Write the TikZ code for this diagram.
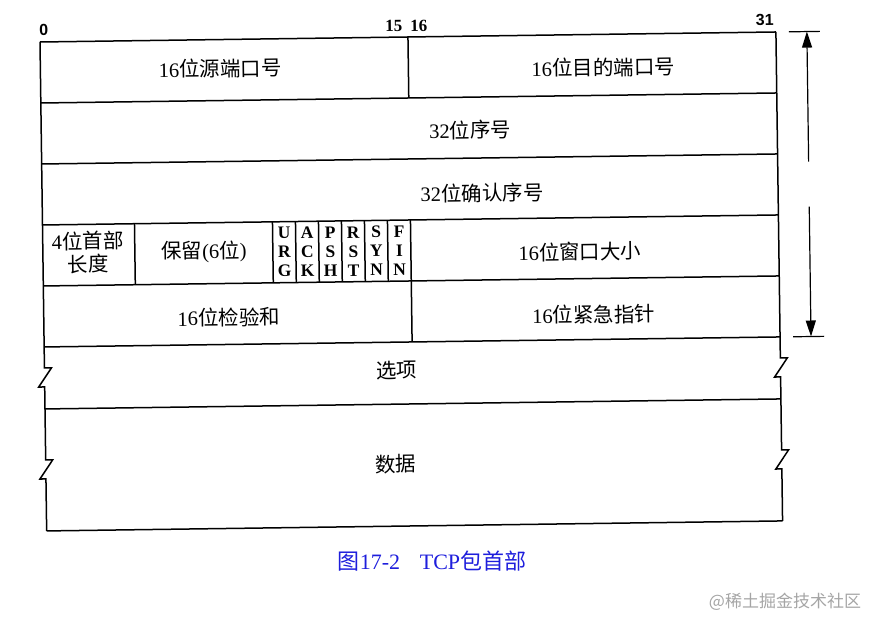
\documentclass[tikz,border=0pt]{standalone}
\usepackage{fontspec}
\setmainfont{Liberation Serif}
\newfontfamily\cjk{Noto Sans CJK SC}
\newfontfamily\lsans{Liberation Sans}
\usetikzlibrary{arrows.meta}
\newcommand{\fsz}[1]{\fontsize{#1}{#1}\selectfont}
\definecolor{capblue}{RGB}{30,30,220}
\definecolor{wmgray}{RGB}{165,165,165}
\tikzset{
  frame/.style={line width=1.5pt, line join=miter},
  lbl/.style={inner sep=0pt, transform shape, font=\fsz{20.5}},
  flag/.style={inner sep=0pt, transform shape, align=center, font=\bfseries\fontsize{17.5}{19}\selectfont},
  bitno/.style={inner sep=0pt, transform shape, font=\lsans\bfseries\fsz{16}},
  bitnos/.style={inner sep=0pt, transform shape, font=\bfseries\fsz{17}},
  dim/.style={line width=1.2pt, -{Triangle[length=16pt,width=10pt]}},
}
\begin{document}
\begin{tikzpicture}[x={(1pt,0pt)}, y={(0pt,-1pt)}]
\useasboundingbox (0,0) rectangle (871,618);
\begin{scope}[shift={(40,42)}, rotate=0.78]
  % horizontal lines
  \foreach \y in {0,61,122,183,244,305,367,489}
    \draw[frame] (0,\y) -- (736,\y);
  % left edge with zigzags
  \draw[frame] (0,0) -- (0,326) -- (7,326) -- (-6,345) -- (0,345)
               -- (0,418) -- (7,418) -- (-6,437) -- (0,437) -- (0,489);
  % right edge with zigzags
  \draw[frame] (736,0) -- (736,326) -- (743,326) -- (730,345) -- (736,345)
               -- (736,418) -- (743,418) -- (730,437) -- (736,437) -- (736,489);
  % internal verticals
  \draw[frame] (368,0) -- (368,61);
  \draw[frame] (368,183) -- (368,305);
  \draw[frame] (92,183) -- (92,244);
  \draw[frame] (230,183) -- (230,244);
  \foreach \x in {253,276,299,322,345}
    \draw[frame] (\x,183) -- (\x,244);
  % bit numbers
  \node[bitno]  (b0)  at (4,-12)   {0};
  \node[bitnos] (b15) at (354,-11) {15};
  \node[bitnos] (b16) at (379,-11) {16};
  \node[bitno]  (b31) at (725,-12) {31};
  % field labels
  \node[lbl] (srcport) at (180,29)  {16{\cjk 位源端口号}};
  \node[lbl] (dstport) at (563,33)  {16{\cjk 位目的端口号}};
  \node[lbl] (seq)     at (429,94)  {32{\cjk 位序号}};
  \node[lbl] (ack)     at (440,157) {32{\cjk 位确认序号}};
  \node[lbl, align=center, font=\fontsize{20.5}{23}\selectfont] (hlen) at (45,211) {4{\cjk 位首部}\\{\cjk 长度}};
  \node[lbl] (resv)    at (161,212) {{\cjk 保留}(6{\cjk 位})};
  \node[lbl] (win)     at (537,217) {16{\cjk 位窗口大小}};
  \node[lbl] (csum)    at (185,278) {16{\cjk 位检验和}};
  \node[lbl] (urg)     at (550,280) {16{\cjk 位紧急指针}};
  \node[lbl] (opt)     at (352,333) {{\cjk 选项}};
  \node[lbl] (data)    at (350,427) {{\cjk 数据}};
  % flags
  \node[flag] (fU) at (241.5,213.5) {U\\R\\G};
  \node[flag] (fA) at (264.5,213.5) {A\\C\\K};
  \node[flag] (fP) at (287.5,213.5) {P\\S\\H};
  \node[flag] (fR) at (310.5,213.5) {R\\S\\T};
  \node[flag] (fS) at (333.5,213.5) {S\\Y\\N};
  \node[flag] (fF) at (356.5,213.5) {F\\I\\N};
  % dimension arrows
  \coordinate (dtop) at (767,0);
  \coordinate (dbot) at (767,305);
  \coordinate (dmid1) at (767,130);
  \coordinate (dmid2) at (767,175);
  \draw[line width=1.2pt] (749,0) -- (780,0);
  \draw[line width=1.2pt] (749,305) -- (780,305);
  \draw[dim] (dmid1) -- (dtop);
  \draw[dim] (dmid2) -- (dbot);
\end{scope}
\node[inner sep=0pt, text=capblue, font=\fsz{22}] (caption) at (432,561)
  {{\cjk 图}17-2\hspace{0.9em}TCP{\cjk 包首部}};
\node[inner sep=0pt, text=wmgray, font=\fsz{17}] (wm) at (785,602)
  {{\cjk @稀土掘金技术社区}};
\end{tikzpicture}
\end{document}
